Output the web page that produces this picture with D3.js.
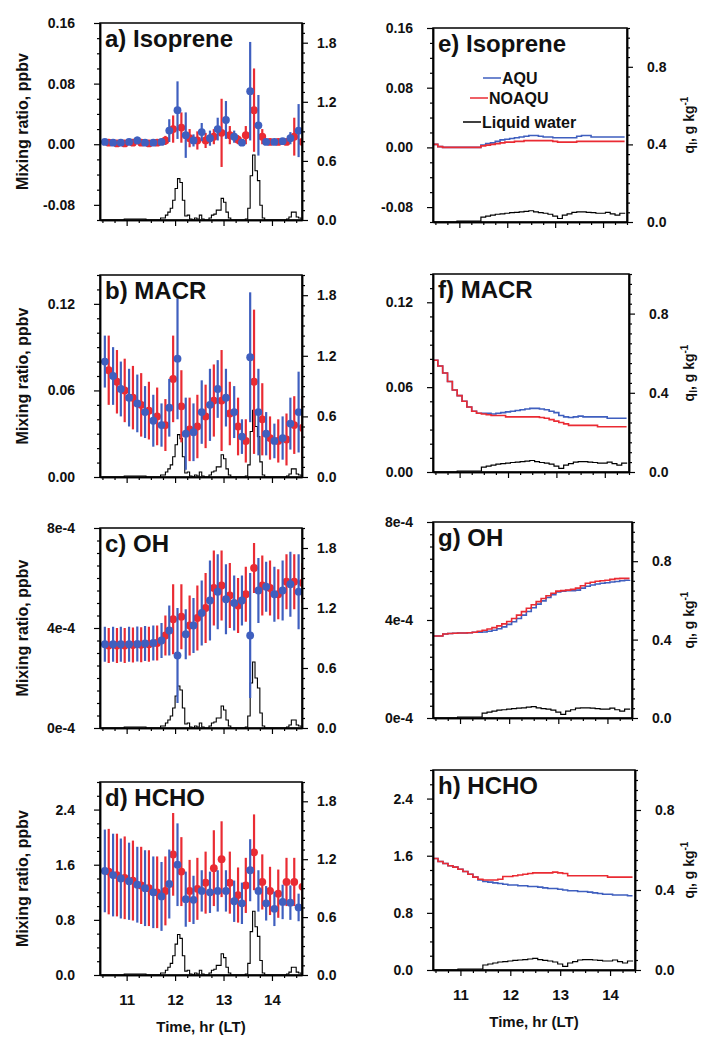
<!DOCTYPE html>
<html>
<head>
<meta charset="utf-8">
<script src="https://cdn.jsdelivr.net/npm/d3@7"></script>
<style>
body { margin: 0; background: #fff; }
svg text { font-family: "Liberation Sans", Arial, Helvetica, sans-serif; }
</style>
</head>
<body>
<script>
var width = 714,
    height = 1039;

var blue = "#3f5fbf",
    red = "#ea2b33";

// ---- observations (left column) ----
var obsTimeAqu = [10.55,10.72,10.88,11.05,11.22,11.38,11.55,11.72,11.88,12.05,12.22,12.38,12.55,12.72,12.88,13.05,13.22,13.38,13.55,13.72,13.88,14.05,14.22,14.38,14.55];
var obsTimeNoaqu = [10.63,10.80,10.96,11.13,11.30,11.46,11.63,11.80,11.96,12.13,12.30,12.46,12.63,12.80,12.96,13.13,13.30,13.46,13.63,13.80,13.96,14.13,14.30,14.46,14.63];

var isoAquObs = [0.003,0.002,0.002,0.003,0.005,0.002,0.002,0.003,0.018,0.045,0.012,0.005,0.016,0.008,0.020,0.032,0.010,0.002,0.070,0.025,0.003,0.003,0.004,0.008,0.018];
var isoAquErr = [0.002,0.002,0.002,0.002,0.005,0.002,0.002,0.003,0.015,0.038,0.030,0.008,0.012,0.010,0.015,0.025,0.008,0.003,0.065,0.040,0.003,0.003,0.004,0.008,0.035];
var isoNoaquObs = [0.002,0.001,0.001,0.002,0.002,0.001,0.002,0.005,0.020,0.022,0.008,0.005,0.005,0.010,0.015,0.012,0.006,0.012,0.045,0.010,0.003,0.003,0.003,0.010,0.003];
var isoNoaquErr = [0.002,0.002,0.002,0.002,0.002,0.002,0.002,0.006,0.018,0.020,0.012,0.012,0.010,0.010,0.045,0.012,0.006,0.012,0.055,0.010,0.003,0.003,0.003,0.025,0.005];

var macrAquObs = [0.080,0.070,0.061,0.055,0.051,0.045,0.039,0.036,0.048,0.082,0.030,0.031,0.045,0.050,0.061,0.055,0.045,0.028,0.083,0.045,0.030,0.025,0.027,0.037,0.045];
var macrAquErr = [0.018,0.020,0.019,0.020,0.020,0.018,0.018,0.015,0.020,0.042,0.025,0.020,0.022,0.025,0.020,0.020,0.018,0.012,0.045,0.030,0.015,0.012,0.015,0.018,0.028];
var macrNoaquObs = [0.074,0.066,0.060,0.055,0.050,0.046,0.042,0.036,0.068,0.049,0.033,0.035,0.042,0.053,0.053,0.044,0.035,0.025,0.066,0.040,0.027,0.025,0.026,0.036,0.034];
var macrNoaquErr = [0.024,0.022,0.022,0.022,0.022,0.020,0.020,0.018,0.030,0.025,0.022,0.022,0.022,0.025,0.035,0.022,0.020,0.015,0.050,0.025,0.015,0.015,0.018,0.020,0.022];

var ohAquObs = [3.35e-4,3.35e-4,3.35e-4,3.35e-4,3.36e-4,3.38e-4,3.40e-4,3.50e-4,3.90e-4,2.90e-4,3.75e-4,4.10e-4,4.60e-4,5.10e-4,5.45e-4,5.15e-4,5.00e-4,5.10e-4,3.70e-4,5.50e-4,5.65e-4,5.35e-4,5.50e-4,5.75e-4,5.45e-4];
var ohAquErr = [0.7e-4,0.7e-4,0.7e-4,0.7e-4,0.7e-4,0.7e-4,0.7e-4,0.7e-4,1.0e-4,1.9e-4,1.0e-4,1.1e-4,1.3e-4,1.6e-4,1.5e-4,1.4e-4,1.1e-4,1.0e-4,2.5e-4,1.3e-4,1.0e-4,1.1e-4,1.2e-4,1.3e-4,1.5e-4];
var ohNoaquObs = [3.30e-4,3.30e-4,3.30e-4,3.32e-4,3.33e-4,3.35e-4,3.40e-4,3.70e-4,4.35e-4,4.45e-4,4.10e-4,4.40e-4,4.80e-4,5.60e-4,5.70e-4,5.30e-4,4.90e-4,5.35e-4,6.40e-4,5.70e-4,5.60e-4,5.35e-4,5.85e-4,5.85e-4,5.80e-4];
var ohNoaquErr = [0.7e-4,0.7e-4,0.7e-4,0.7e-4,0.7e-4,0.7e-4,0.7e-4,0.8e-4,1.4e-4,1.3e-4,1.2e-4,1.3e-4,1.4e-4,1.5e-4,1.4e-4,1.3e-4,1.1e-4,1.1e-4,1.0e-4,1.2e-4,1.1e-4,1.0e-4,1.1e-4,1.1e-4,0.8e-4];

var hchoAquObs = [1.51,1.45,1.40,1.36,1.31,1.26,1.20,1.14,1.32,1.60,1.10,1.09,1.22,1.20,1.22,1.22,1.07,1.04,1.52,1.22,1.04,0.96,1.06,1.05,0.98];
var hchoAquErr = [0.60,0.60,0.58,0.56,0.55,0.55,0.52,0.50,0.50,0.60,0.40,0.35,0.30,0.30,0.30,0.30,0.30,0.30,0.45,0.30,0.25,0.25,0.25,0.25,0.20];
var hchoNoaquObs = [1.50,1.45,1.41,1.37,1.30,1.26,1.20,1.22,1.75,1.50,1.22,1.25,1.34,1.55,1.68,1.34,1.16,1.30,1.78,1.35,1.22,1.18,1.35,1.35,1.28];
var hchoNoaquErr = [0.62,0.60,0.60,0.58,0.56,0.55,0.52,0.50,0.60,0.50,0.45,0.45,0.45,0.55,0.55,0.45,0.40,0.40,0.55,0.40,0.35,0.35,0.35,0.35,0.30];

// observed liquid water (right axis of left column)
var lwObsTime = [10.50,10.55,10.60,10.65,10.70,10.75,10.80,10.85,10.90,10.95,11.00,11.05,11.10,11.15,11.20,11.25,11.30,11.35,11.40,11.45,11.50,11.55,11.60,11.65,11.70,11.75,11.80,11.85,11.90,11.95,12.00,12.05,12.10,12.15,12.20,12.25,12.30,12.35,12.40,12.45,12.50,12.55,12.60,12.65,12.70,12.75,12.80,12.85,12.90,12.95,13.00,13.05,13.10,13.15,13.20,13.25,13.30,13.35,13.40,13.45,13.50,13.55,13.60,13.65,13.70,13.75,13.80,13.85,13.90,13.95,14.00,14.05,14.10,14.15,14.20,14.25,14.30,14.35,14.40,14.45,14.50,14.55,14.60];
var lwObs = [0,0,0,0,0,0,0,0,0,0.01,0.01,0.01,0.01,0.01,0.01,0.01,0.01,0.01,0,0,0,0,0,0,0.02,0.02,0.05,0.08,0.12,0.20,0.32,0.42,0.38,0.20,0.04,0.05,0.01,0,0.02,0.01,0.05,0.01,0,0,0.02,0.05,0.06,0.10,0.10,0.22,0.18,0.08,0.02,0,0,0,0,0,0,0.01,0.12,0.45,0.66,0.50,0.40,0.15,0.02,0,0,0,0,0,0,0,0,0,0.01,0.03,0.08,0.08,0.03,0.02,0.01];

// ---- model (right column) ----
var modelTime = [10.45,10.55,10.65,10.75,10.85,10.95,11.05,11.15,11.25,11.35,11.45,11.55,11.65,11.75,11.85,11.95,12.05,12.15,12.25,12.35,12.45,12.55,12.65,12.75,12.85,12.95,13.05,13.15,13.25,13.35,13.45,13.55,13.65,13.75,13.85,13.95,14.05,14.15,14.25,14.35,14.45];

var isoAquMod = [0.004,0.001,0,0,0,0,0,0,0,0, 0.003,0.005,0.006,0.008,0.010,0.011,0.012,0.013,0.014,0.015, 0.016,0.016,0.015,0.014,0.014,0.013,0.013,0.013,0.013,0.013, 0.015,0.016,0.016,0.014,0.014,0.014,0.014,0.014,0.014,0.014,0.014];
var isoNoaquMod = [0.004,0.001,0,0,0,0,0,0,0,0, 0.002,0.003,0.004,0.005,0.006,0.007,0.007,0.008,0.008,0.009, 0.009,0.009,0.009,0.009,0.009,0.008,0.007,0.007,0.007,0.007, 0.008,0.008,0.008,0.008,0.008,0.008,0.008,0.008,0.008,0.008,0.008];

var macrAquMod = [0.079,0.075,0.070,0.064,0.058,0.054,0.050,0.046,0.043,0.0415, 0.0415,0.0415,0.041,0.0415,0.042,0.0425,0.043,0.0435,0.044,0.0445, 0.045,0.045,0.0445,0.044,0.043,0.042,0.040,0.039,0.0385,0.039, 0.0395,0.039,0.039,0.039,0.039,0.039,0.038,0.038,0.038,0.038,0.038];
var macrNoaquMod = [0.079,0.075,0.070,0.064,0.058,0.054,0.050,0.046,0.043,0.0415, 0.041,0.0405,0.040,0.040,0.040,0.039,0.039,0.039,0.039,0.039, 0.039,0.039,0.0385,0.038,0.037,0.036,0.035,0.034,0.033,0.033, 0.033,0.033,0.033,0.033,0.032,0.032,0.032,0.032,0.032,0.032,0.032];

var ohAquMod = [3.35e-4,3.35e-4,3.43e-4,3.45e-4,3.46e-4,3.47e-4,3.47e-4,3.48e-4,3.50e-4,3.50e-4, 3.51e-4,3.54e-4,3.58e-4,3.64e-4,3.72e-4,3.82e-4,3.93e-4,4.06e-4,4.20e-4,4.35e-4, 4.50e-4,4.65e-4,4.78e-4,4.92e-4,5.03e-4,5.14e-4,5.18e-4,5.20e-4,5.20e-4,5.22e-4, 5.30e-4,5.38e-4,5.43e-4,5.47e-4,5.50e-4,5.52e-4,5.55e-4,5.57e-4,5.60e-4,5.62e-4,5.63e-4];
var ohNoaquMod = [3.35e-4,3.35e-4,3.43e-4,3.45e-4,3.46e-4,3.47e-4,3.47e-4,3.48e-4,3.50e-4,3.54e-4, 3.58e-4,3.63e-4,3.69e-4,3.76e-4,3.84e-4,3.94e-4,4.06e-4,4.20e-4,4.34e-4,4.48e-4, 4.62e-4,4.75e-4,4.88e-4,4.99e-4,5.09e-4,5.18e-4,5.20e-4,5.22e-4,5.25e-4,5.30e-4, 5.40e-4,5.50e-4,5.54e-4,5.58e-4,5.60e-4,5.62e-4,5.66e-4,5.69e-4,5.70e-4,5.70e-4,5.70e-4];

var hchoAquMod = [1.56,1.52,1.49,1.46,1.44,1.41,1.38,1.34,1.30,1.26, 1.24,1.23,1.22,1.21,1.20,1.19,1.19,1.18,1.18,1.17, 1.17,1.16,1.15,1.14,1.14,1.13,1.12,1.11,1.11,1.10, 1.10,1.09,1.08,1.07,1.06,1.06,1.05,1.05,1.05,1.04,1.04];
var hchoNoaquMod = [1.56,1.52,1.49,1.46,1.44,1.41,1.38,1.34,1.30,1.27, 1.26,1.26,1.26,1.27,1.31,1.31,1.32,1.33,1.34,1.35, 1.36,1.36,1.36,1.36,1.37,1.36,1.35,1.32,1.32,1.32, 1.32,1.32,1.32,1.32,1.32,1.30,1.30,1.30,1.30,1.30,1.30];

var lwMod = [0,0,0,0,0,0.005,0.005,0.005,0.005,0.005, 0.025,0.030,0.035,0.040,0.042,0.045,0.048,0.050,0.052,0.055, 0.058,0.052,0.048,0.045,0.040,0.030,0.018,0.035,0.042,0.050, 0.052,0.052,0.050,0.048,0.045,0.045,0.050,0.042,0.035,0.045,0.042];

// axis ticks
var hourTicks = [11, 12, 13, 14];
var lwTicksObs = [0, 0.6, 1.2, 1.8];
var lwTicksMod = [0, 0.4, 0.8];

var f2 = function(d) { return d.toFixed(2); },
    f1 = function(d) { return d.toFixed(1); },
    fe4 = function(d) { return Math.round(d * 1e4) + "e-4"; };

var panels = [
  {label: "a) Isoprene", col: 0, top: 23, bottom: 220, yDom: [-0.1, 0.16], yTicks: [-0.08, 0, 0.08, 0.16], yMinor: 0.02, fmt: f2,
   series: [isoNoaquObs, isoNoaquErr, isoAquObs, isoAquErr]},
  {label: "b) MACR", col: 0, top: 275, bottom: 477, yDom: [0, 0.14], yTicks: [0, 0.06, 0.12], yMinor: 0.01, fmt: f2,
   series: [macrNoaquObs, macrNoaquErr, macrAquObs, macrAquErr]},
  {label: "c) OH", col: 0, top: 528, bottom: 728, yDom: [0, 8e-4], yTicks: [0, 4e-4, 8e-4], yMinor: 0.5e-4, fmt: fe4,
   series: [ohNoaquObs, ohNoaquErr, ohAquObs, ohAquErr]},
  {label: "d) HCHO", col: 0, top: 782, bottom: 975, yDom: [0, 2.8], yTicks: [0, 0.8, 1.6, 2.4], yMinor: 0.2, fmt: f1, xLabels: true,
   series: [hchoNoaquObs, hchoNoaquErr, hchoAquObs, hchoAquErr]},
  {label: "e) Isoprene", col: 1, right: 627, top: 28, bottom: 222, yDom: [-0.1, 0.16], yTicks: [-0.08, 0, 0.08, 0.16], yMinor: 0.02, fmt: f2,
   model: [isoAquMod, isoNoaquMod], legend: true},
  {label: "f) MACR", col: 1, right: 629, top: 274, bottom: 472, yDom: [0, 0.14], yTicks: [0, 0.06, 0.12], yMinor: 0.01, fmt: f2,
   model: [macrAquMod, macrNoaquMod]},
  {label: "g) OH", col: 1, right: 632, top: 522, bottom: 718, yDom: [0, 8e-4], yTicks: [0, 4e-4, 8e-4], yMinor: 0.5e-4, fmt: fe4,
   model: [ohAquMod, ohNoaquMod]},
  {label: "h) HCHO", col: 1, right: 635, top: 770, bottom: 970, yDom: [0, 2.8], yTicks: [0, 0.8, 1.6, 2.4], yMinor: 0.2, fmt: f1, xLabels: true,
   model: [hchoAquMod, hchoNoaquMod]}
];

var svg = d3.select("body").append("svg")
  .attr("width", width)
  .attr("height", height);

function minorTicks(dom, step, major) {
  var out = [];
  var k0 = Math.ceil(dom[0] / step - 1e-6),
      k1 = Math.floor(dom[1] / step + 1e-6);
  for (var k = k0; k <= k1; k++) {
    var v = k * step;
    if (!major.some(function(m) { return Math.abs(m - v) < step / 10; })) out.push(v);
  }
  return out;
}

function styleAxis(g, size) {
  g.attr("font-family", null).attr("font-size", size).attr("font-weight", "bold");
  g.select(".domain").attr("stroke-width", 1.5);
  g.selectAll(".tick line").attr("stroke-width", 1.2);
  g.selectAll(".tick text").attr("fill", "#111");
}

panels.forEach(function(p, pi) {
  var left = p.col == 0;
  var x0 = left ? 100 : 433,
      x1 = left ? 302 : p.right;
  var x = d3.scaleLinear().domain(left ? [10.45, 14.62] : [10.45, 14.5]).range([x0, x1]);
  var y = d3.scaleLinear().domain(p.yDom).range([p.bottom, p.top]);
  var y2 = d3.scaleLinear().domain(left ? [0, 2.0] : [0, 1.0]).range([p.bottom, p.top]);

  var g = svg.append("g");

  var clipId = "clip" + pi;
  g.append("clipPath").attr("id", clipId)
    .append("rect")
    .attr("x", x0).attr("y", p.top)
    .attr("width", x1 - x0).attr("height", p.bottom - p.top);

  var plot = g.append("g").attr("clip-path", "url(#" + clipId + ")");

  if (left) {
    // liquid water (obs)
    plot.append("path")
      .datum(lwObsTime.map(function(t, i) { return [t, lwObs[i]]; }))
      .attr("fill", "none").attr("stroke", "#000").attr("stroke-width", 1.1)
      .attr("d", d3.line().curve(d3.curveStepAfter)
        .x(function(d) { return x(d[0]); })
        .y(function(d) { return y2(d[1]); }));

    var sets = [
      {t: obsTimeNoaqu, v: p.series[0], e: p.series[1], c: red},
      {t: obsTimeAqu, v: p.series[2], e: p.series[3], c: blue}
    ];
    sets.forEach(function(s) {
      var pts = s.t.map(function(t, i) { return {t: t, v: s.v[i], e: s.e[i]}; });
      plot.append("g").selectAll("line")
        .data(pts).enter()
        .append("line")
        .attr("x1", function(d) { return x(d.t); })
        .attr("x2", function(d) { return x(d.t); })
        .attr("y1", function(d) { return y(d.v - d.e); })
        .attr("y2", function(d) { return y(d.v + d.e); })
        .attr("stroke", s.c).attr("stroke-width", 2.2);
      plot.append("g").selectAll("circle")
        .data(pts).enter()
        .append("circle")
        .attr("cx", function(d) { return x(d.t); })
        .attr("cy", function(d) { return y(d.v); })
        .attr("r", 3.9)
        .attr("fill", s.c);
    });
  } else {
    var line = d3.line().curve(d3.curveStepAfter);
    plot.append("path")
      .datum(modelTime.map(function(t, i) { return [x(t), y2(lwMod[i])]; }))
      .attr("fill", "none").attr("stroke", "#000").attr("stroke-width", 1.2)
      .attr("d", line);
    plot.append("path")
      .datum(modelTime.map(function(t, i) { return [x(t), y(p.model[0][i])]; }))
      .attr("fill", "none").attr("stroke", blue).attr("stroke-width", 1.6)
      .attr("d", line);
    plot.append("path")
      .datum(modelTime.map(function(t, i) { return [x(t), y(p.model[1][i])]; }))
      .attr("fill", "none").attr("stroke", red).attr("stroke-width", 1.6)
      .attr("d", line);
  }

  // frame
  g.append("rect")
    .attr("x", x0).attr("y", p.top)
    .attr("width", x1 - x0).attr("height", p.bottom - p.top)
    .attr("fill", "none").attr("stroke", "#000").attr("stroke-width", 1.5);

  // left axis
  var ax = g.append("g").attr("transform", "translate(" + x0 + ",0)")
    .call(d3.axisLeft(y).tickValues(p.yTicks).tickSize(6).tickSizeOuter(0)
      .tickPadding(left ? 19 : 14).tickFormat(p.fmt));
  styleAxis(ax, 14);
  var axm = g.append("g").attr("transform", "translate(" + x0 + ",0)")
    .call(d3.axisLeft(y).tickValues(minorTicks(p.yDom, p.yMinor, p.yTicks)).tickSize(3).tickSizeOuter(0).tickFormat(""));
  styleAxis(axm, 14);

  // right axis (liquid water)
  var y2Ticks = left ? lwTicksObs : lwTicksMod;
  var ar = g.append("g").attr("transform", "translate(" + x1 + ",0)")
    .call(d3.axisRight(y2).tickValues(y2Ticks).tickSize(6).tickSizeOuter(0)
      .tickPadding(left ? 9 : 14).tickFormat(f1));
  styleAxis(ar, 14);
  var arm = g.append("g").attr("transform", "translate(" + x1 + ",0)")
    .call(d3.axisRight(y2).tickValues(minorTicks(y2.domain(), left ? 0.1 : 0.05, y2Ticks)).tickSize(3).tickSizeOuter(0).tickFormat(""));
  styleAxis(arm, 14);

  // bottom axis
  var ab = g.append("g").attr("transform", "translate(0," + p.bottom + ")")
    .call(d3.axisBottom(x).tickValues(hourTicks).tickSize(6).tickSizeOuter(0)
      .tickPadding(13).tickFormat(p.xLabels ? d3.format("d") : ""));
  styleAxis(ab, 15);
  var abm = g.append("g").attr("transform", "translate(0," + p.bottom + ")")
    .call(d3.axisBottom(x).tickValues(minorTicks(x.domain(), 0.25, hourTicks)).tickSize(3).tickSizeOuter(0).tickFormat(""));
  styleAxis(abm, 15);

  // panel title
  g.append("text")
    .attr("x", x0 + 5).attr("y", p.top + 24)
    .attr("font-size", 24)
    .attr("font-weight", "bold")
    .attr("fill", "#111")
    .text(p.label);

  var cy = (p.top + p.bottom) / 2;
  if (left) {
    g.append("text")
      .attr("transform", "translate(28," + cy + ") rotate(-90)")
      .attr("text-anchor", "middle")
      .attr("font-size", 16).attr("font-weight", "bold").attr("fill", "#111")
      .text("Mixing ratio, ppbv");
  } else {
    var ql = g.append("text")
      .attr("transform", "translate(694," + cy + ") rotate(-90)")
      .attr("text-anchor", "middle")
      .attr("font-size", 14).attr("font-weight", "bold").attr("fill", "#111");
    ql.append("tspan").text("q");
    ql.append("tspan").attr("font-size", 10).attr("dy", 3).text("l");
    ql.append("tspan").attr("dy", -3).text(", g kg");
    ql.append("tspan").attr("font-size", 10).attr("dy", -6).text("-1");
  }

  if (p.xLabels) {
    g.append("text")
      .attr("x", (x0 + x1) / 2).attr("y", p.bottom + 57)
      .attr("text-anchor", "middle")
      .attr("font-size", 15).attr("font-weight", "bold").attr("fill", "#111")
      .text("Time, hr (LT)");
  }

  if (p.legend) {
    var items = [
      {name: "AQU", c: blue, lx: 483, y: 78},
      {name: "NOAQU", c: red, lx: 470, y: 98},
      {name: "Liquid water", c: "#000", lx: 463, y: 122}
    ];
    var lg = g.append("g");
    items.forEach(function(it) {
      lg.append("line")
        .attr("x1", it.lx).attr("x2", it.lx + 18)
        .attr("y1", it.y).attr("y2", it.y)
        .attr("stroke", it.c).attr("stroke-width", 1.5);
      lg.append("text")
        .attr("x", it.lx + 19).attr("y", it.y).attr("dy", "0.36em")
        .attr("font-size", 16).attr("font-weight", "bold").attr("fill", "#111")
        .text(it.name);
    });
  }
});
</script>
</body>
</html>
